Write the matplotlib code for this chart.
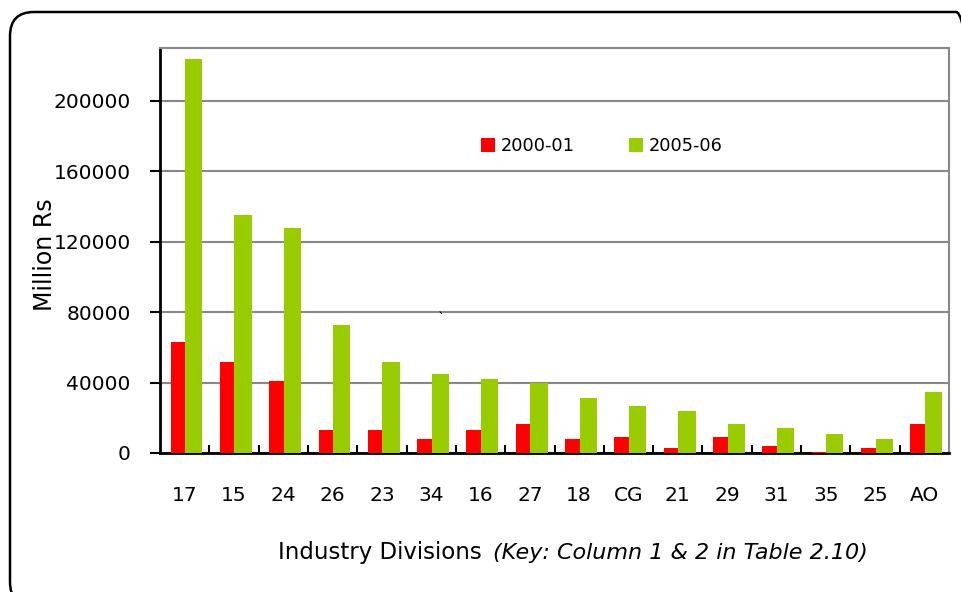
import numpy as np
import matplotlib
matplotlib.use('Agg')
import matplotlib.pyplot as plt
from matplotlib.patches import FancyBboxPatch

plt.rcParams['font.family'] = ['DejaVu Sans']

divisions = ['17', '15', '24', '26', '23', '34', '16', '27', '18', 'CG', '21', '29', '31', '35', '25', 'AO']
y2000 = [63300, 51800, 41000, 13300, 13300, 8100, 13300, 16500, 8100, 8900, 2800, 8900, 4000, 700, 2800, 16500]
y2005 = [224000, 135000, 127500, 72800, 51600, 45100, 41900, 39600, 31300, 26900, 23900, 16300, 14200, 11000, 8100, 34700]

fig = plt.figure(figsize=(9.61, 5.92), dpi=100)
ax = fig.add_axes([160/961, 1-453/592, (949-160)/961, (453-48)/592])

x = np.arange(len(divisions))
ax.bar(x-0.285, y2000, width=0.295, align='edge', color='#ff0000', label='2000-01', zorder=3)
ax.bar(x+0.01, y2005, width=0.35, align='edge', color='#99cc00', label='2005-06', zorder=3)

ax.set_xlim(-0.5, len(divisions)-0.5)
ax.set_ylim(0, 230000)
ax.set_yticks(np.arange(0, 230000, 40000))
ax.yaxis.grid(True, color='#888888', linewidth=1.5, zorder=0)

ax.set_xticks(x)
ax.set_xticklabels(divisions)
ax.set_xticks(np.arange(0.5, len(divisions)-0.5, 1), minor=True)
ax.tick_params(axis='x', which='major', length=0, pad=24, labelsize=14.5)
ax.tick_params(axis='x', which='minor', direction='in', length=6, width=1.5, color='black')
ax.tick_params(axis='y', length=7, width=1.5, pad=14, labelsize=14.5, color='black')

for s in ['top', 'right']:
    ax.spines[s].set_color('#888888')
    ax.spines[s].set_linewidth(1.5)
for s in ['left', 'bottom']:
    ax.spines[s].set_color('black')
    ax.spines[s].set_linewidth(2)

fig.text(45/961, 1-255/592, 'Million Rs', fontsize=17, rotation=90, ha='center', va='center')
ax.text(5.2, 72000, '`', fontsize=10, ha='center', va='bottom')

ax.legend(loc='center', bbox_to_anchor=(0.56, 0.757), ncol=2, frameon=False, fontsize=12.8,
          handlelength=0.8, handleheight=0.8, handletextpad=0.35, columnspacing=3.0)

fig.text(278/961, 1-553/592, 'Industry Divisions', fontsize=16.5, ha='left', va='center')
fig.text(493/961, 1-553/592, '(Key: Column 1 & 2 in Table 2.10)', fontsize=16, style='italic',
         ha='left', va='center')

# rounded frame around the whole chart (pixel coords)
box = FancyBboxPatch((10, -14), 970, 594, boxstyle='round,pad=0,rounding_size=24',
                     transform=None, fill=False, edgecolor='black', linewidth=1.8)
fig.patches.append(box)

fig.savefig('out.png', dpi=100)
